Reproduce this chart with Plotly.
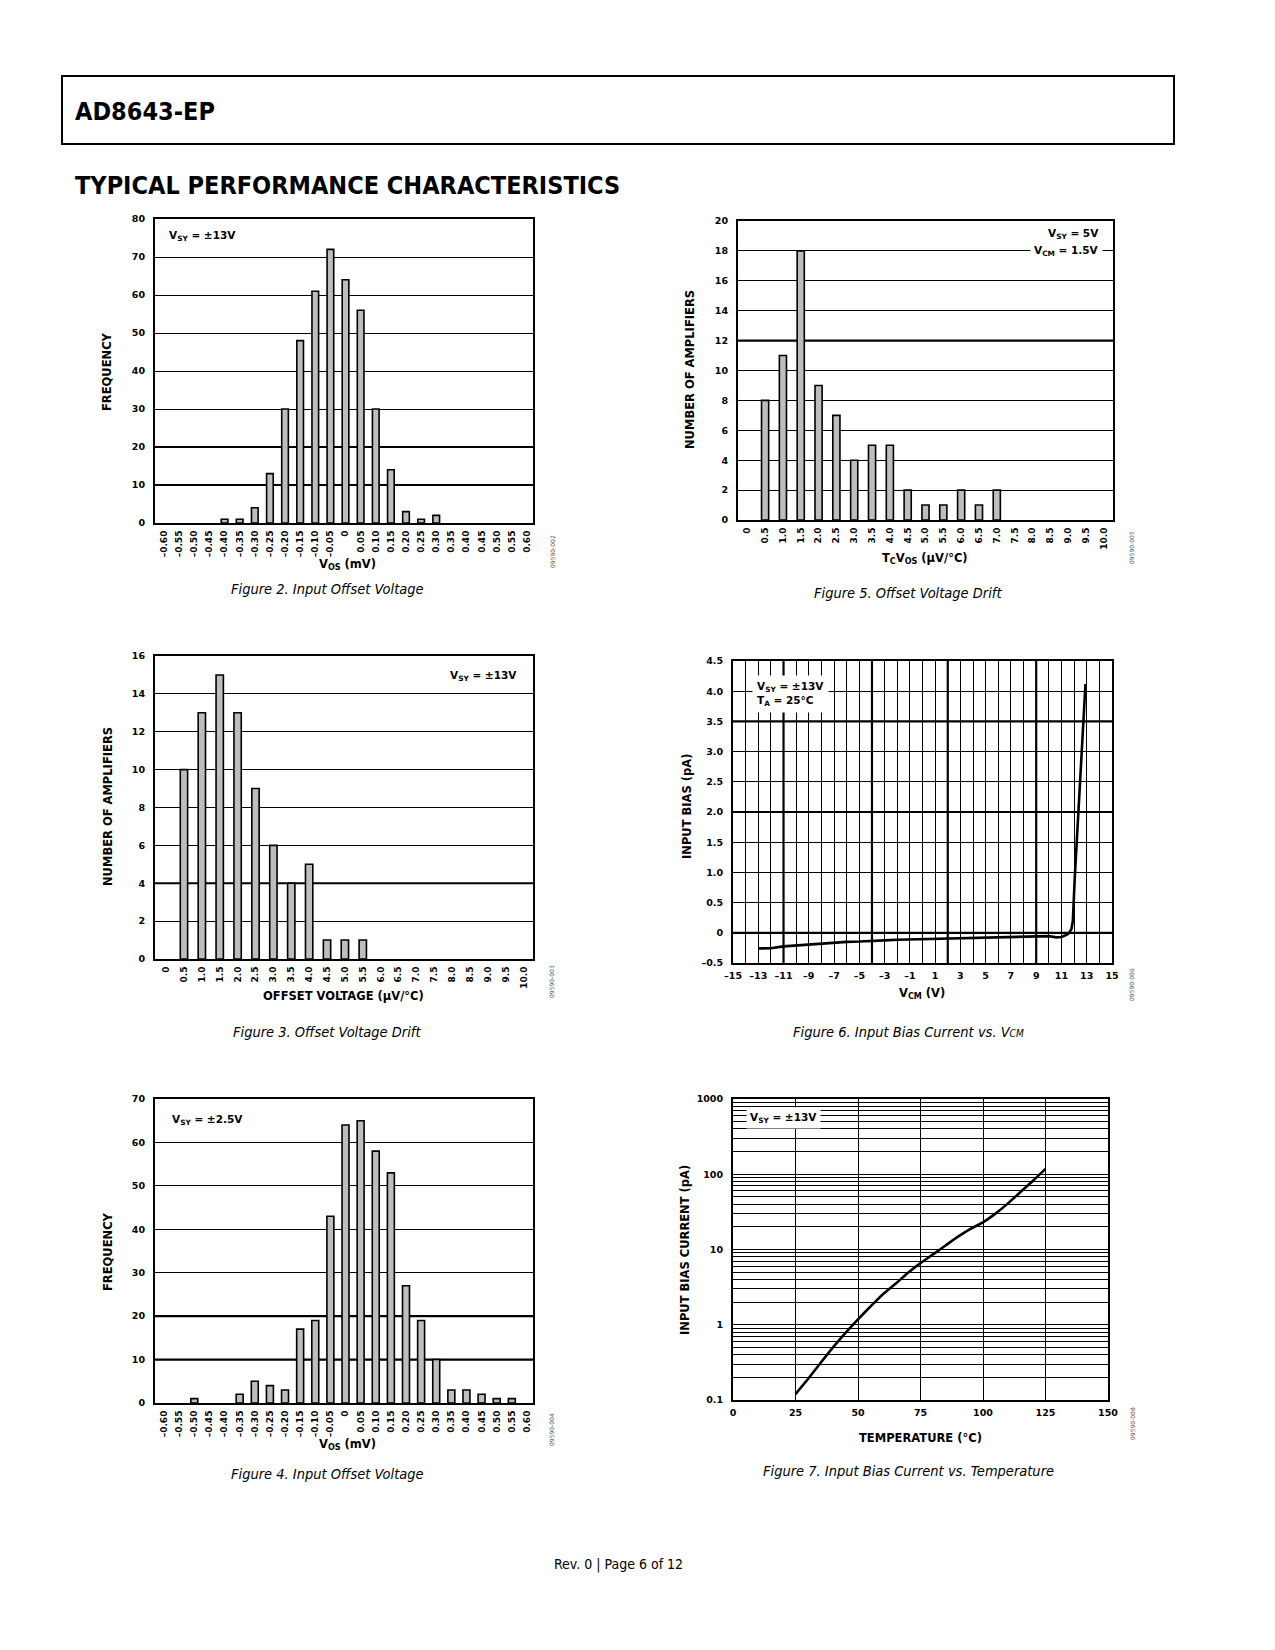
import plotly.graph_objects as go

W, H = 1275, 1650
OFF = 8                      # browser body margin
FW, FH = W - 2 * OFF, H - 2 * OFF

# ---------------- data ----------------
vos_bins = [-0.60, -0.55, -0.50, -0.45, -0.40, -0.35, -0.30, -0.25, -0.20, -0.15, -0.10, -0.05,
            0.0, 0.05, 0.10, 0.15, 0.20, 0.25, 0.30, 0.35, 0.40, 0.45, 0.50, 0.55, 0.60]
vos_labels = ["–0.60", "–0.55", "–0.50", "–0.45", "–0.40", "–0.35", "–0.30", "–0.25", "–0.20",
              "–0.15", "–0.10", "–0.05", "0", "0.05", "0.10", "0.15", "0.20", "0.25", "0.30",
              "0.35", "0.40", "0.45", "0.50", "0.55", "0.60"]
fig2_freq = [0, 0, 0, 0, 1, 1, 4, 13, 30, 48, 61, 72, 64, 56, 30, 14, 3, 1, 2, 0, 0, 0, 0, 0, 0]
fig4_freq = [0, 0, 1, 0, 0, 2, 5, 4, 3, 17, 19, 43, 64, 65, 58, 53, 27, 19, 10, 3, 3, 2, 1, 1, 0]

drift_bins = [0, 0.5, 1.0, 1.5, 2.0, 2.5, 3.0, 3.5, 4.0, 4.5, 5.0, 5.5, 6.0, 6.5, 7.0, 7.5,
              8.0, 8.5, 9.0, 9.5, 10.0]
drift_labels = ["0", "0.5", "1.0", "1.5", "2.0", "2.5", "3.0", "3.5", "4.0", "4.5", "5.0", "5.5",
                "6.0", "6.5", "7.0", "7.5", "8.0", "8.5", "9.0", "9.5", "10.0"]
fig5_count = [0, 8, 11, 18, 9, 7, 4, 5, 5, 2, 1, 1, 2, 1, 2, 0, 0, 0, 0, 0, 0]
fig3_count = [0, 10, 13, 15, 13, 9, 6, 4, 5, 1, 1, 1, 0, 0, 0, 0, 0, 0, 0, 0, 0]

vcm = [-13, -12, -11, -10, -9, -8, -7, -6, -5, -4, -3, -2, -1, 0, 1, 2, 3, 4, 5, 6, 7, 8, 9, 10,
       10.6, 11.0, 11.4, 11.6, 11.8, 11.9, 12.05, 12.45, 12.85, 12.9]
ib_vcm = [-0.26, -0.255, -0.225, -0.21, -0.19, -0.175, -0.165, -0.15, -0.145, -0.14, -0.125,
          -0.115, -0.11, -0.105, -0.10, -0.095, -0.09, -0.085, -0.08, -0.075, -0.07, -0.065,
          -0.06, -0.055, -0.075, -0.07, -0.035, -0.005, 0.07, 0.2, 0.9, 2.5, 4.05, 4.12]
vcm_ticks = [-15, -13, -11, -9, -7, -5, -3, -1, 1, 3, 5, 7, 9, 11, 13, 15]
vcm_ticktext = ["–15", "–13", "–11", "–9", "–7", "–5", "–3", "–1", "1", "3", "5", "7", "9",
                "11", "13", "15"]
ib_ticks = [-0.5, 0, 0.5, 1.0, 1.5, 2.0, 2.5, 3.0, 3.5, 4.0, 4.5]
ib_ticktext = ["–0.5", "0", "0.5", "1.0", "1.5", "2.0", "2.5", "3.0", "3.5", "4.0", "4.5"]

temp = [25, 30, 35, 40, 45, 50, 55, 60, 65, 70, 75, 80, 85, 90, 95, 100, 105, 110, 115, 120, 125]
ib_temp = [0.12, 0.19, 0.31, 0.5, 0.78, 1.18, 1.75, 2.55, 3.5, 4.9, 6.6, 8.6, 11.3, 14.8, 18.8,
           23, 30, 41, 58, 82, 118]
temp_ticks = [0, 25, 50, 75, 100, 125, 150]
log_ticks = [0.1, 1, 10, 100, 1000]
log_ticktext = ["0.1", "1", "10", "100", "1000"]
log_minor = [0.2, 0.3, 0.4, 0.5, 0.6, 0.7, 0.8, 0.9, 2, 3, 4, 5, 6, 7, 8, 9,
             20, 30, 40, 50, 60, 70, 80, 90, 200, 300, 400, 500, 600, 700, 800, 900]

# ---------------- helpers (page pixels -> paper fractions) ----------------
def px(x):
    return (x - OFF) / FW

def py(y):
    return 1 - (y - OFF) / FH

def xd(a, b):
    return [px(a), px(b)]

def yd(a, b):
    return [py(b), py(a)]

TICKFONT = dict(family="DejaVu Sans", size=9.5, color="black", weight="bold")
XTICKFONT = dict(family="DejaVu Sans", size=9, color="black", weight="bold")
LBLFONT = dict(family="DejaVu Sans", size=11.5, color="black", weight="bold")
NOTEFONT = dict(family="DejaVu Sans", size=10.5, color="black", weight="bold")
CAPFONT = dict(family="Liberation Sans Narrow, DejaVu Sans Condensed, sans-serif", size=14.5,
               color="black", style="italic")
BAR_FILL = "#bdbdbd"

fig = go.Figure()
layout = dict(width=FW, height=FH, margin=dict(l=0, r=0, t=0, b=0, pad=0, autoexpand=False),
              paper_bgcolor="white", plot_bgcolor="white", showlegend=False)

def base_axis(**kw):
    d = dict(showline=True, mirror=True, linecolor="black", linewidth=2, ticks="",
             zeroline=False, tickfont=TICKFONT, fixedrange=True, automargin=False)
    d.update(kw)
    return d

panels = {
    1: (155, 533, 219, 523),
    2: (738, 1113, 221, 520),
    3: (155, 533, 656, 959),
    4: (733, 1112, 661, 963),
    5: (155, 533, 1099, 1403),
    6: (733, 1108, 1099, 1400),
}

def ax_names(i):
    return ("xaxis" if i == 1 else f"xaxis{i}", "yaxis" if i == 1 else f"yaxis{i}",
            "x" if i == 1 else f"x{i}", "y" if i == 1 else f"y{i}")

shapes = []
annotations = []

def bar_panel(i, xs, ys, labels, width, xrange, ymax, dy):
    xa, ya, xr, yr = ax_names(i)
    x0, x1, y0, y1 = panels[i]
    shown = [v if v else None for v in ys]
    fig.add_trace(go.Bar(x=xs, y=shown, width=width, xaxis=xr, yaxis=yr,
                         marker=dict(color=BAR_FILL, line=dict(color="black", width=1.6)),
                         hoverinfo="skip"))
    layout[xa] = base_axis(domain=xd(x0, x1), range=xrange, tickvals=xs, ticktext=labels,
                           tickangle=-90, showgrid=False, anchor=yr, ticklabelstandoff=2,
                           tickfont=XTICKFONT)
    layout[ya] = base_axis(domain=yd(y0, y1), range=[0, ymax], dtick=dy, tick0=0,
                           showgrid=True, gridcolor="black", gridwidth=1, anchor=xr,
                           ticklabelstandoff=6)

def thick_h(i, yv, w=2.2):
    xa, ya, xr, yr = ax_names(i)
    x0, x1, y0, y1 = panels[i]
    shapes.append(dict(type="line", xref="paper", yref=yr, x0=px(x0), x1=px(x1), y0=yv, y1=yv,
                       line=dict(color="black", width=w), layer="below"))

def thick_v(i, xv, w=2.2):
    xa, ya, xr, yr = ax_names(i)
    x0, x1, y0, y1 = panels[i]
    shapes.append(dict(type="line", xref=xr, yref="paper", x0=xv, x1=xv, y0=py(y1), y1=py(y0),
                       line=dict(color="black", width=w), layer="below"))

def note(text, x, y, xanchor="left", yanchor="middle", font=NOTEFONT, bg=None, angle=0,
         align="left", pad=1):
    a = dict(text=text, x=px(x), y=py(y), xref="paper", yref="paper", showarrow=False,
             xanchor=xanchor, yanchor=yanchor, font=font, textangle=angle, align=align,
             borderpad=pad)
    if bg:
        a["bgcolor"] = bg
    annotations.append(a)

# ---- Figure 2 ----
bar_panel(1, vos_bins, fig2_freq, vos_labels, 0.022, [-0.63, 0.62], 80, 10)
thick_h(1, 10); thick_h(1, 20)
# ---- Figure 5 ----
bar_panel(2, drift_bins, fig5_count, drift_labels, 0.2, [-0.26, 10.26], 20, 2)
thick_h(2, 12)
# ---- Figure 3 ----
bar_panel(3, drift_bins, fig3_count, drift_labels, 0.205, [-0.31, 10.26], 16, 2)
thick_h(3, 4)
# ---- Figure 4 ----
bar_panel(5, vos_bins, fig4_freq, vos_labels, 0.023, [-0.63, 0.62], 70, 10)
thick_h(5, 10); thick_h(5, 20)

# ---- Figure 6 ----
xa, ya, xr, yr = ax_names(4)
x0, x1, y0, y1 = panels[4]
fig.add_trace(go.Scatter(x=vcm, y=ib_vcm, mode="lines", xaxis=xr, yaxis=yr,
                         line=dict(color="black", width=2.6), hoverinfo="skip"))
layout[xa] = base_axis(domain=xd(x0, x1), range=[-15, 15], tickvals=vcm_ticks,
                       ticktext=vcm_ticktext, showgrid=True, gridcolor="black", gridwidth=1,
                       minor=dict(dtick=1, tick0=0, showgrid=True, gridcolor="black",
                                  gridwidth=1, ticks=""),
                       anchor=yr, ticklabelstandoff=3)
layout[ya] = base_axis(domain=yd(y0, y1), range=[-0.5, 4.5], tickvals=ib_ticks,
                       ticktext=ib_ticktext, showgrid=True, gridcolor="black", gridwidth=1,
                       anchor=xr, ticklabelstandoff=6)
for v in [-11, -4, 2, 9]:
    thick_v(4, v)
for v in [3.5, 2.0, 0]:
    thick_h(4, v)

# ---- Figure 7 ----
xa, ya, xr, yr = ax_names(6)
x0, x1, y0, y1 = panels[6]
fig.add_trace(go.Scatter(x=temp, y=ib_temp, mode="lines", xaxis=xr, yaxis=yr,
                         line=dict(color="black", width=2.6, shape="spline", smoothing=0.6),
                         hoverinfo="skip"))
layout[xa] = base_axis(domain=xd(x0, x1), range=[0, 150], tickvals=temp_ticks,
                       showgrid=True, gridcolor="black", gridwidth=1, anchor=yr,
                       ticklabelstandoff=3)
layout[ya] = base_axis(domain=yd(y0, y1), type="log", range=[-1, 3], tickvals=log_ticks,
                       ticktext=log_ticktext, showgrid=True, gridcolor="black", gridwidth=1,
                       minor=dict(tickvals=log_minor, showgrid=True, gridcolor="black",
                                  gridwidth=1, ticks=""),
                       anchor=xr, ticklabelstandoff=6)

# ---------------- page text ----------------
shapes.append(dict(type="rect", xref="paper", yref="paper", x0=px(62), x1=px(1174),
                   y0=py(144), y1=py(76), line=dict(color="black", width=2)))
TITLEFONT = dict(family="Liberation Sans Narrow, DejaVu Sans Condensed, sans-serif",
                 size=25, color="black", weight="bold")
note("AD8643-EP", 73, 111, font=TITLEFONT)
note("TYPICAL PERFORMANCE CHARACTERISTICS", 73, 186, font=TITLEFONT)

# axis titles
note("FREQUENCY", 107, 372, xanchor="center", font=LBLFONT, angle=-90)
note("V<sub>OS</sub> (mV)", 347, 564, xanchor="center", font=LBLFONT)
note("NUMBER OF AMPLIFIERS", 690, 370, xanchor="center", font=LBLFONT, angle=-90)
note("T<sub>C</sub>V<sub>OS</sub> (µV/°C)", 925, 558, xanchor="center", font=LBLFONT)
note("NUMBER OF AMPLIFIERS", 108, 807, xanchor="center", font=LBLFONT, angle=-90)
note("OFFSET VOLTAGE (µV/°C)", 343, 996, xanchor="center", font=LBLFONT)
note("INPUT BIAS (pA)", 687, 807, xanchor="center", font=LBLFONT, angle=-90)
note("V<sub>CM</sub> (V)", 922, 993, xanchor="center", font=LBLFONT)
note("FREQUENCY", 108, 1252, xanchor="center", font=LBLFONT, angle=-90)
note("V<sub>OS</sub> (mV)", 347, 1444, xanchor="center", font=LBLFONT)
note("INPUT BIAS CURRENT (pA)", 685, 1250, xanchor="center", font=LBLFONT, angle=-90)
note("TEMPERATURE (°C)", 920, 1438, xanchor="center", font=LBLFONT)

# in-plot notes
note("V<sub>SY</sub> = ±13V", 167, 236)
note("V<sub>SY</sub> = 5V", 1103, 234, xanchor="right", bg="white", pad=3)
note("V<sub>CM</sub> = 1.5V", 1103, 251, xanchor="right", bg="white", pad=3)
note("V<sub>SY</sub> = ±13V", 519, 676, xanchor="right")
note("V<sub>SY</sub> = ±13V<br>T<sub>A</sub> = 25°C", 752, 694, bg="white", pad=4)
note("V<sub>SY</sub> = ±2.5V", 170, 1120)
note("V<sub>SY</sub> = ±13V", 746, 1118, bg="white", pad=3)

# captions
note("Figure 2. Input Offset Voltage", 327, 589, xanchor="center", font=CAPFONT)
note("Figure 5. Offset Voltage Drift", 908, 593, xanchor="center", font=CAPFONT)
note("Figure 3. Offset Voltage Drift", 327, 1032, xanchor="center", font=CAPFONT)
note("Figure 6. Input Bias Current vs. V<span style='font-size:10px'>CM</span>", 908, 1032,
     xanchor="center", font=CAPFONT)
note("Figure 4. Input Offset Voltage", 327, 1474, xanchor="center", font=CAPFONT)
note("Figure 7. Input Bias Current vs. Temperature", 908, 1471, xanchor="center", font=CAPFONT)

# footer
note("Rev. 0 | Page 6 of 12", 618, 1564, xanchor="center",
     font=dict(family="Liberation Sans Narrow, DejaVu Sans Condensed, sans-serif", size=14,
               color="black"))

# figure codes
CODEFONT = dict(family="DejaVu Sans", size=6, color="#555555")
note("09590-002", 552, 552, xanchor="center", font=CODEFONT, angle=-90)
note("09590-005", 1132, 548, xanchor="center", font=CODEFONT, angle=-90)
note("09590-003", 551, 982, xanchor="center", font=CODEFONT, angle=-90)
note("09590-006", 1132, 985, xanchor="center", font=CODEFONT, angle=-90)
note("09590-004", 551, 1430, xanchor="center", font=CODEFONT, angle=-90)
note("09590-008", 1132, 1424, xanchor="center", font=CODEFONT, angle=-90)

layout["shapes"] = shapes
layout["annotations"] = annotations
fig.update_layout(**layout)
fig.write_html("out.html")
